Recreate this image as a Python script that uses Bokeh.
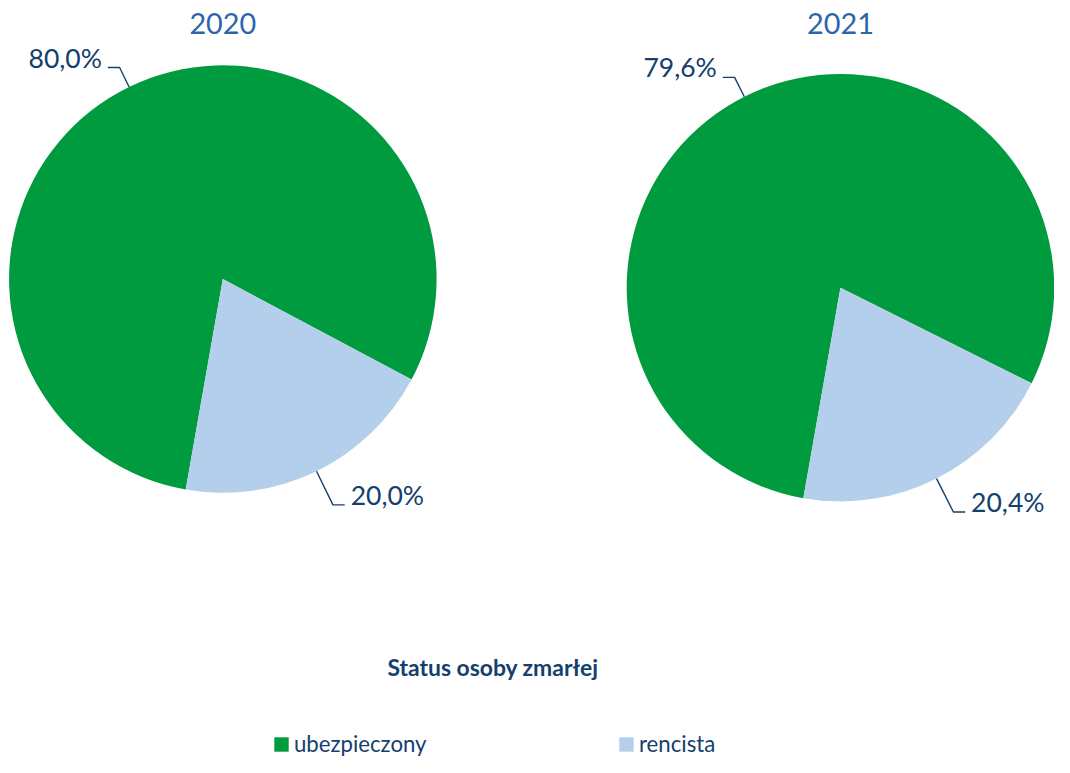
import math
from bokeh.plotting import figure
from bokeh.models import Range1d, ColumnDataSource, Legend, LegendItem
from bokeh.core.properties import value
from bokeh.embed import file_html
from bokeh.resources import INLINE

# ---------------- data ----------------
years = ["2020", "2021"]
categories = ["ubezpieczony", "rencista"]
ubezpieczony = [80.0, 79.6]
rencista = [20.0, 20.4]

# ---------------- layout / style ----------------
W, H = 1054, 757
REF_W = 1070
S = W / REF_W
Y_SPAN = H / S
REF_H = 773

def Y(ref_y):
    return REF_H - ref_y

centers = [(225.7, Y(287.3)), (852.7, Y(296.0))]
R = 217.0
BASE = -100.0  # start angle (deg) of the first slice, clockwise
colors = ["#009A3F", "#B4CFEC"]
label_color = "#14406E"
title_color = "#2E65A8"
ext = [22, 38]  # leader radial extension per category
FONT = "Lato"

p = figure(width=W, height=H, x_range=Range1d(0, REF_W), y_range=Range1d(0, Y_SPAN),
           output_backend="svg", toolbar_location=None,
           x_axis_location=None, y_axis_location=None, min_border=0)
p.outline_line_color = None
p.grid.visible = False
p.background_fill_color = "white"

series = [ubezpieczony, rencista]
renderers = []
lx, ly, ltxt, lalign = [], [], [], []
lines_x, lines_y = [], []
for ci, cat in enumerate(categories):
    xs, ys, st, en = [], [], [], []
    for yi in range(len(years)):
        cum = sum(series[k][yi] for k in range(ci))
        total = sum(series[k][yi] for k in range(len(series)))
        a0 = BASE - cum / total * 360.0
        a1 = BASE - (cum + series[ci][yi]) / total * 360.0
        cx, cy = centers[yi]
        xs.append(cx); ys.append(cy); st.append(math.radians(a0)); en.append(math.radians(a1))
        mid = math.radians((a0 + a1) / 2)
        ux, uy = math.cos(mid), math.sin(mid)
        p0 = (cx + R * ux, cy + R * uy)
        el = (cx + (R + ext[ci]) * ux, cy + (R + ext[ci]) * uy)
        sgn = 1 if ux >= 0 else -1
        end = (el[0] + sgn * 12, el[1])
        lines_x.append([p0[0], el[0], end[0]])
        lines_y.append([p0[1], el[1], end[1]])
        lx.append(end[0] + sgn * 6)
        ly.append(end[1] + 10)
        ltxt.append(f"{series[ci][yi]:.1f}".replace(".", ",") + "%")
        lalign.append("left" if sgn > 0 else "right")
    src = ColumnDataSource(dict(x=xs, y=ys, start=st, end=en))
    r = p.wedge(x="x", y="y", radius=R, start_angle="start", end_angle="end",
                direction="clock", source=src, fill_color=colors[ci], line_color=None)
    renderers.append(r)

p.multi_line(xs=lines_x, ys=lines_y, line_color=label_color, line_width=1.4)
p.text(x=lx, y=ly, text=ltxt, text_align=lalign, text_baseline="middle",
       text_font=value(FONT), text_font_size="26.5px", text_color=label_color)

# year titles
p.text(x=[c[0] for c in centers], y=[Y(28), Y(28)], text=years, text_align="center",
       text_baseline="middle", text_font=value(FONT), text_font_size="28.8px",
       text_color=title_color)

# legend title
p.text(x=[500], y=[Y(681)], text=["Status osoby zmarłej"], text_align="center",
       text_baseline="middle", text_font=value(FONT), text_font_size="22.9px",
       text_font_style="bold", text_color=label_color)

legend = Legend(items=[LegendItem(label=c, renderers=[r]) for c, r in zip(categories, renderers)],
                orientation="horizontal", location=(272, 0),
                glyph_width=18, glyph_height=18, label_standoff=4, label_width=313,
                spacing=10, padding=0, margin=0, border_line_color=None,
                background_fill_alpha=0, label_text_font=FONT,
                label_text_font_size="22.2px", label_text_color=label_color)
p.add_layout(legend, "center")

open("out.html", "w").write(file_html(p, INLINE))
